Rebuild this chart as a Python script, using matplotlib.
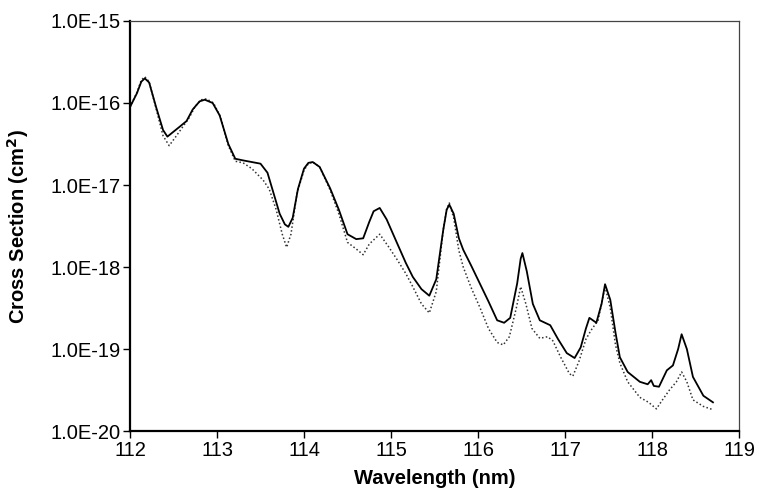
import numpy as np
import matplotlib
matplotlib.use("Agg")
import matplotlib.pyplot as plt
from matplotlib.ticker import FixedLocator, FuncFormatter, NullLocator

plt.rcParams['font.family'] = ['Liberation Sans', 'DejaVu Sans']

# wavelength (nm) and log10 of cross section (cm^2)
wl_solid = [112.00, 112.08, 112.13, 112.17, 112.22, 112.30, 112.38, 112.43, 112.50, 112.57, 112.65,
            112.72, 112.80, 112.86, 112.95, 113.03, 113.13, 113.21, 113.30, 113.40, 113.50,
            113.58, 113.65, 113.72, 113.78, 113.82, 113.87, 113.93, 114.00, 114.05, 114.10, 114.18,
            114.30, 114.40, 114.50, 114.60, 114.68, 114.75, 114.80, 114.87, 114.95, 115.07,
            115.17, 115.25, 115.35, 115.44, 115.52, 115.60, 115.64, 115.67, 115.72, 115.78, 115.83,
            115.92, 116.02, 116.12, 116.22, 116.30, 116.37, 116.45, 116.49, 116.51, 116.56, 116.63,
            116.71, 116.83, 116.92, 117.02, 117.11, 117.18, 117.24, 117.28, 117.36, 117.42,
            117.46, 117.52, 117.58, 117.63, 117.72, 117.86, 117.95, 117.99, 118.02, 118.08,
            118.17, 118.24, 118.30, 118.34, 118.40, 118.47, 118.59, 118.70]
log_solid = [-16.05, -15.88, -15.74, -15.70, -15.75, -16.05, -16.33, -16.41, -16.35, -16.29, -16.22,
             -16.08, -15.98, -15.96, -16.00, -16.15, -16.50, -16.68, -16.70, -16.72, -16.74,
             -16.85, -17.10, -17.35, -17.48, -17.51, -17.40, -17.05, -16.80, -16.73, -16.72, -16.78,
             -17.04, -17.30, -17.60, -17.66, -17.65, -17.45, -17.32, -17.28, -17.42, -17.71,
             -17.95, -18.12, -18.27, -18.35, -18.15, -17.55, -17.30, -17.24, -17.35, -17.65, -17.79,
             -17.98, -18.20, -18.42, -18.65, -18.68, -18.62, -18.20, -17.90, -17.83, -18.05, -18.45,
             -18.65, -18.71, -18.88, -19.05, -19.11, -18.98, -18.75, -18.62, -18.68, -18.45,
             -18.21, -18.40, -18.80, -19.10, -19.28, -19.40, -19.43, -19.38, -19.45, -19.46,
             -19.26, -19.20, -19.00, -18.82, -19.00, -19.34, -19.57, -19.65]

wl_dot = [112.00, 112.08, 112.13, 112.17, 112.22, 112.30, 112.38, 112.45, 112.52, 112.60, 112.68,
          112.75, 112.82, 112.88, 112.96, 113.04, 113.13, 113.21, 113.30, 113.40, 113.53,
          113.60, 113.68, 113.75, 113.80, 113.85, 113.92, 114.00, 114.05, 114.10, 114.18, 114.30,
          114.40, 114.50, 114.60, 114.68, 114.75, 114.87, 114.97, 115.07, 115.17, 115.25,
          115.35, 115.44, 115.52, 115.60, 115.64, 115.67, 115.72, 115.78, 115.83, 115.92, 116.02,
          116.12, 116.22, 116.29, 116.36, 116.44, 116.49, 116.55, 116.62, 116.71, 116.80,
          116.86, 116.95, 117.05, 117.09, 117.16, 117.24, 117.30, 117.38, 117.46, 117.52,
          117.58, 117.63, 117.72, 117.86, 117.96, 118.05, 118.12, 118.20, 118.28, 118.34,
          118.40, 118.47, 118.59, 118.70]
log_dot = [-16.05, -15.87, -15.72, -15.68, -15.74, -16.07, -16.40, -16.52, -16.42, -16.30, -16.18,
           -16.04, -15.96, -15.95, -16.00, -16.17, -16.52, -16.71, -16.73, -16.80, -16.94,
           -17.05, -17.30, -17.60, -17.76, -17.60, -17.10, -16.82, -16.74, -16.72, -16.78, -17.06,
           -17.35, -17.70, -17.78, -17.85, -17.72, -17.60, -17.75, -17.91, -18.08, -18.24,
           -18.45, -18.56, -18.30, -17.55, -17.29, -17.22, -17.40, -17.80, -18.00, -18.25, -18.49,
           -18.75, -18.92, -18.95, -18.85, -18.50, -18.24, -18.45, -18.75, -18.87, -18.85,
           -18.90, -19.10, -19.30, -19.33, -19.15, -18.88, -18.77, -18.65, -18.24, -18.50,
           -18.95, -19.17, -19.40, -19.59, -19.65, -19.73, -19.62, -19.50, -19.40, -19.28,
           -19.40, -19.62, -19.70, -19.74]

x_ticks = [112, 113, 114, 115, 116, 117, 118, 119]
y_ticks = [1e-20, 1e-19, 1e-18, 1e-17, 1e-16, 1e-15]

fig = plt.figure(figsize=(7.58, 4.94), dpi=100)
ax = fig.add_axes([0.1715, 0.1275, 0.8035, 0.83])

ax.plot(wl_dot, 10 ** np.array(log_dot), color='#333333', lw=1.1, ls=(0, (1, 1.5)))
ax.plot(wl_solid, 10 ** np.array(log_solid), color='black', lw=1.3)

ax.set_yscale('log')
ax.set_xlim(112, 119)
ax.set_ylim(1e-20, 1e-15)
ax.xaxis.set_major_locator(FixedLocator(x_ticks))
ax.yaxis.set_major_locator(FixedLocator(y_ticks))
ax.yaxis.set_minor_locator(NullLocator())
ax.yaxis.set_major_formatter(FuncFormatter(lambda v, p: "1.0E%d" % round(np.log10(v))))

ax.tick_params(direction='out', length=5, width=1, labelsize=14.5, colors='black', pad=2)
for s in ['left', 'bottom']:
    ax.spines[s].set_linewidth(1.6)
for s in ['top', 'right']:
    ax.spines[s].set_linewidth(0.9)
    ax.spines[s].set_color('#444444')

ax.set_xlabel('Wavelength (nm)', fontsize=14.5, fontweight='bold')
ax.set_ylabel('Cross Section (cm$^\\mathbf{2}$)', fontsize=14.5, fontweight='bold')
ax.xaxis.set_label_coords(0.5, -0.115)
ax.xaxis.label.set_va('center')
ax.yaxis.set_label_coords(-0.184, 0.5)
ax.yaxis.label.set_va('center')

fig.savefig('out.png', dpi=100)
